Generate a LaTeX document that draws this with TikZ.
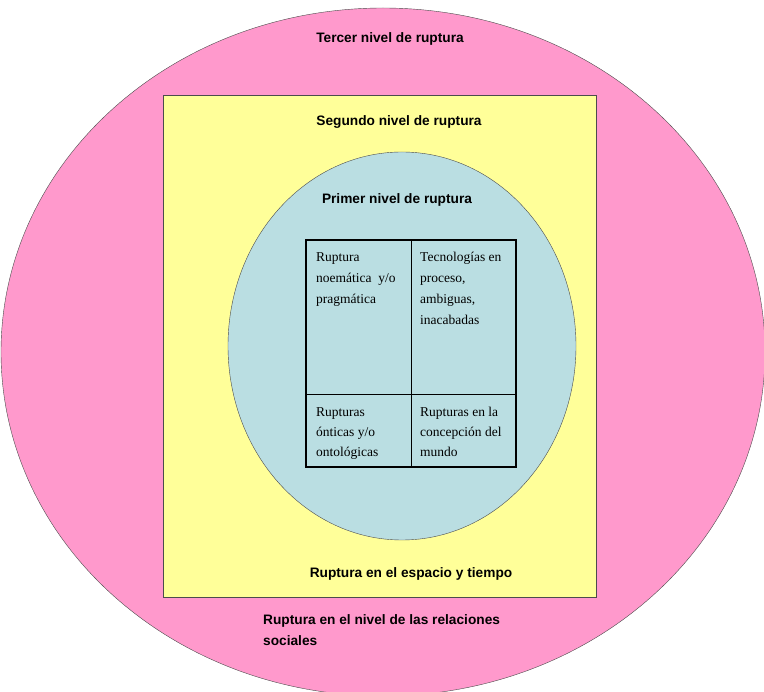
\documentclass[tikz,border=0pt]{standalone}
\usepackage{fontspec}
\setmainfont{Liberation Serif}
\setsansfont{Liberation Sans}
\usetikzlibrary{positioning}

\definecolor{rosa}{HTML}{FF99CC}
\definecolor{amarillo}{HTML}{FFFF99}
\definecolor{celeste}{HTML}{BADEE2}

\begin{document}
\begin{tikzpicture}[x=1pt,y=-1pt,
        nivel/.style={font=\sffamily\bfseries\fontsize{13.7}{21}\selectfont},
        celda/.style={anchor=base west, align=left, inner sep=0pt,
            font=\fontsize{13.5}{21}\selectfont}]
                \useasboundingbox (0,0) rectangle (764,692);
                \clip (0,0) rectangle (764,692);
                % tercer nivel
                \draw[black!70, fill=rosa] (383,352) ellipse [x radius=382, y radius=344];
                % segundo nivel
                \draw[black!70, fill=amarillo] (163,95) rectangle (596,597);
                % primer nivel
                \draw[black!70, fill=celeste] (402,346) ellipse [x radius=174, y radius=194];
                % cuadro
                \draw[line width=2pt] (306,240) rectangle (516,467);
                \draw (411,240) -- (411,467);
                \draw (306,394) -- (516,394);
                \node[nivel] (tercer) at (390,39) {Tercer nivel de ruptura};
                \node[nivel] (segundo) at (399,122) {Segundo nivel de ruptura};
                \node[nivel] (primer) at (397,200) {Primer nivel de ruptura};
                \node[nivel] (espacio) at (411,574) {Ruptura en el espacio y tiempo};
                \node[nivel, anchor=base west, align=left, inner sep=0pt] (sociales) at (263,646)
                    {Ruptura en el nivel de las relaciones\\sociales};
                % ultima linea de cada celda en la linea base
                \node[celda] (noema) at (316,304) {Ruptura\\noemática\ \ y/o\\pragmática};
                \node[celda] (tecno) at (420,325) {Tecnologías en\\proceso,\\ambiguas,\\inacabadas};
                \node[celda, font=\fontsize{13.5}{20}\selectfont] (ontica) at (316,457)
                    {Rupturas\\ónticas y/o\\ontológicas};
                \node[celda, font=\fontsize{13.5}{20}\selectfont] (mundo) at (420,457)
                    {Rupturas en la\\concepción del\\mundo};
            \end{tikzpicture}
\end{document}
